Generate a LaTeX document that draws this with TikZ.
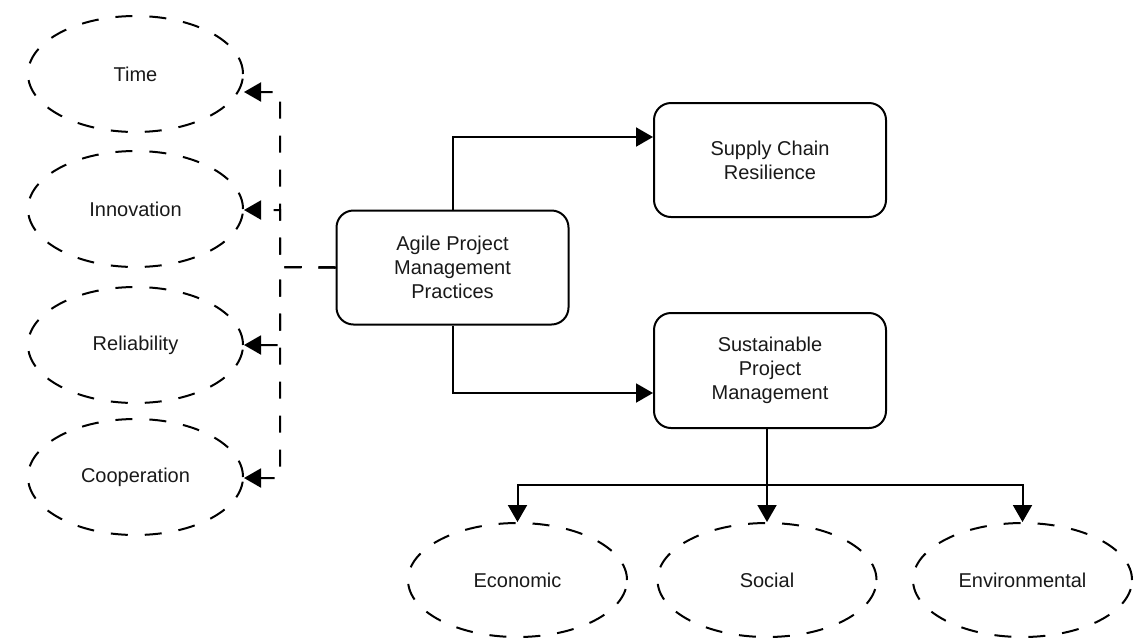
\documentclass[tikz,border=0pt]{standalone}
\usepackage{fontspec}
\setmainfont{Liberation Sans}
\usetikzlibrary{shapes.geometric,arrows.meta}

\tikzset{
  lbl/.style={font=\fontsize{20}{24}\selectfont, text=black!90, align=center},
  procbox/.style={lbl, draw, line width=2pt, rounded corners=17pt,
    minimum width=232pt, minimum height=114pt, inner sep=0pt},
  aspect/.style={lbl, draw, ellipse, line width=2pt, dash pattern=on 17pt off 17pt,
    minimum width=215pt, minimum height=116pt, inner sep=0pt},
  pillar/.style={aspect, minimum width=219pt, minimum height=114pt},
  flow/.style={line width=2pt, -{Triangle[length=17pt,width=19pt]}},
  dflow/.style={flow, dash pattern=on 17pt off 17pt}
}

\begin{document}
\begin{tikzpicture}[x=1pt,y=-1pt]
  \useasboundingbox (0,0) rectangle (1147,641);

  % central practice and outcomes
  \node[procbox] (agile) at (452.5,267.5) {Agile Project\\Management\\Practices};
  \node[procbox] (supply) at (770,160) {Supply Chain\\Resilience};
  \node[procbox, minimum height=115pt] (sust) at (770,370.5) {Sustainable\\Project\\Management};

  % agile dimensions
  \node[aspect] (time) at (135.5,74) {Time};
  \node[aspect] (innov) at (135.5,209) {Innovation};
  \node[aspect] (relia) at (135.5,345) {Reliability};
  \node[aspect] (coop) at (135.5,477) {Cooperation};

  % sustainability pillars
  \node[pillar] (econ) at (517.5,580) {Economic};
  \node[pillar] (social) at (767,580) {Social};
  \node[pillar] (env) at (1022.5,580) {Environmental};

  % solid connectors
  \draw[flow] (agile.north) |- ([yshift=23pt]supply.west);
  \draw[flow] (agile.south) |- ([yshift=-22.5pt]sust.west);
  \draw[flow] (sust.south -| social.north) -- (social.north);
  \coordinate (hub) at (767,485);
  \draw[flow] (hub) -| (econ.north);
  \draw[flow] (hub) -| (env.north);

  % dashed connectors to the agile dimensions
  \coordinate (split) at (280,267);
  \draw[dflow] (agile.west) -- (split) |- ([yshift=-18pt]time.east);
  \draw[dflow] (agile.west) -- (split) |- ([yshift=-1pt]innov.east);
  \draw[dflow] (agile.west) -- (split) |- (relia.east);
  \draw[dflow] (agile.west) -- (split) |- ([yshift=-1pt]coop.east);
\end{tikzpicture}
\end{document}
